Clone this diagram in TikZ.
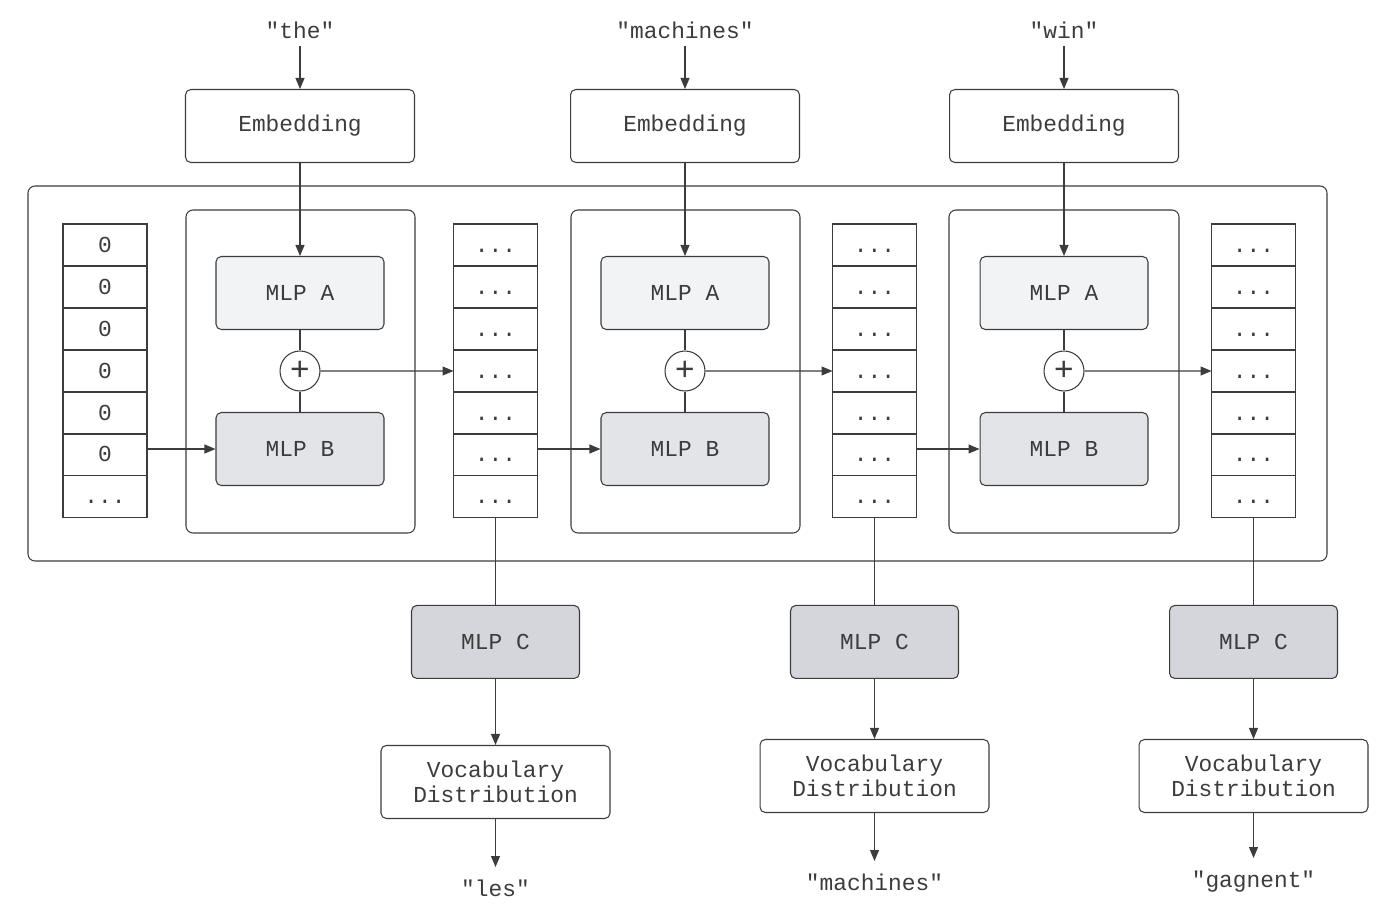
\documentclass[tikz,border=0pt]{standalone}
\usepackage{fontspec}
\setmainfont{Liberation Mono}[Ligatures=TeXOff]
\usetikzlibrary{arrows.meta}
\usetikzlibrary{positioning}

\definecolor{linegray}{HTML}{3C3C3C}
\definecolor{mlpafill}{HTML}{F2F3F5}
\definecolor{mlpbfill}{HTML}{E2E4E7}
\definecolor{mlpcfill}{HTML}{D4D6DB}

\tikzset{
	box/.style={draw=linegray, line width=0.6pt, rounded corners=3pt, minimum width=4.58cm, minimum height=1.46cm, align=center, text=linegray},
	mlp/.style={box, minimum width=3.36cm},
	cell/.style={draw=linegray, line width=0.6pt, minimum width=1.68cm, minimum height=0.84cm, outer sep=0pt, text=linegray, text height=0.8em, text depth=0pt},
	word/.style={text=linegray, inner sep=4pt},
	outword/.style={word, inner sep=7pt},
	sum/.style={draw=linegray, line width=0.6pt, circle, minimum size=0.8cm, inner sep=0pt, text=linegray, font=\fontsize{19}{19}\selectfont},
	arr/.style={draw=linegray, line width=0.6pt, -{Triangle[length=0.22cm,width=0.18cm]}},
	link/.style={draw=linegray, line width=0.6pt}
}

\begin{document}
\begin{tikzpicture}
	[x=0.02cm, y=-0.02cm, font=\fontsize{13}{14}\selectfont];

	\useasboundingbox (0,0) rectangle (1400,914);

	%Frames
	\draw[link, rounded corners=4pt] (28,186) rectangle (1327,561);
	\draw[link, rounded corners=4pt] (186,210) rectangle (415,533);
	\draw[link, rounded corners=4pt] (571,210) rectangle (800,533);
	\draw[link, rounded corners=4pt] (949,210) rectangle (1179,533);

	%Embeddings
	\node[box] (emb1) at (300,126) {Embedding};
	\node[box] (emb2) at (685,126) {Embedding};
	\node[box] (emb3) at (1064,126) {Embedding};
	\node[word, above=0.86cm of emb1] (in1) {"the"};
	\node[word, above=0.86cm of emb2] (in2) {"machines"};
	\node[word, above=0.86cm of emb3] (in3) {"win"};

	%MLP blocks
	\node[mlp, fill=mlpafill] (mlpa1) at (300,293) {MLP A};
	\node[mlp, fill=mlpafill] (mlpa2) at (685,293) {MLP A};
	\node[mlp, fill=mlpafill] (mlpa3) at (1064,293) {MLP A};
	\node[sum] (plus1) at (300,371) {+};
	\node[sum] (plus2) at (685,371) {+};
	\node[sum] (plus3) at (1064,371) {+};
	\node[mlp, fill=mlpbfill] (mlpb1) at (300,449) {MLP B};
	\node[mlp, fill=mlpbfill] (mlpb2) at (685,449) {MLP B};
	\node[mlp, fill=mlpbfill] (mlpb3) at (1064,449) {MLP B};

	%State vectors
	\node[cell] (c1r1) at (105,245) {0};
	\node[cell, below=0pt of c1r1] (c1r2) {0};
	\node[cell, below=0pt of c1r2] (c1r3) {0};
	\node[cell, below=0pt of c1r3] (c1r4) {0};
	\node[cell, below=0pt of c1r4] (c1r5) {0};
	\node[cell, below=0pt of c1r5] (c1r6) {0};
	\node[cell, below=0pt of c1r6] (c1r7) {...};

	\node[cell] (c2r1) at (495.5,245) {...};
	\node[cell, below=0pt of c2r1] (c2r2) {...};
	\node[cell, below=0pt of c2r2] (c2r3) {...};
	\node[cell, below=0pt of c2r3] (c2r4) {...};
	\node[cell, below=0pt of c2r4] (c2r5) {...};
	\node[cell, below=0pt of c2r5] (c2r6) {...};
	\node[cell, below=0pt of c2r6] (c2r7) {...};

	\node[cell] (c3r1) at (874.5,245) {...};
	\node[cell, below=0pt of c3r1] (c3r2) {...};
	\node[cell, below=0pt of c3r2] (c3r3) {...};
	\node[cell, below=0pt of c3r3] (c3r4) {...};
	\node[cell, below=0pt of c3r4] (c3r5) {...};
	\node[cell, below=0pt of c3r5] (c3r6) {...};
	\node[cell, below=0pt of c3r6] (c3r7) {...};

	\node[cell] (c4r1) at (1253.5,245) {...};
	\node[cell, below=0pt of c4r1] (c4r2) {...};
	\node[cell, below=0pt of c4r2] (c4r3) {...};
	\node[cell, below=0pt of c4r3] (c4r4) {...};
	\node[cell, below=0pt of c4r4] (c4r5) {...};
	\node[cell, below=0pt of c4r5] (c4r6) {...};
	\node[cell, below=0pt of c4r6] (c4r7) {...};

	%Decoders
	\node[mlp, fill=mlpcfill, below=1.74cm of c2r7] (mlpc1) {MLP C};
	\node[mlp, fill=mlpcfill, below=1.74cm of c3r7] (mlpc2) {MLP C};
	\node[mlp, fill=mlpcfill, below=1.74cm of c4r7] (mlpc3) {MLP C};
	\node[box, below=1.32cm of mlpc1] (voc1) {Vocabulary\\Distribution};
	\node[box, below=1.2cm of mlpc2] (voc2) {Vocabulary\\Distribution};
	\node[box, below=1.2cm of mlpc3] (voc3) {Vocabulary\\Distribution};
	\node[outword, below=0.96cm of voc1] (out1) {"les"};
	\node[outword, below=0.96cm of voc2] (out2) {"machines"};
	\node[outword, below=0.9cm of voc3] (out3) {"gagnent"};

	%Connections
	\draw[arr] (in1) -- (emb1);
	\draw[arr] (in2) -- (emb2);
	\draw[arr] (in3) -- (emb3);
	\draw[arr] (emb1) -- (mlpa1);
	\draw[arr] (emb2) -- (mlpa2);
	\draw[arr] (emb3) -- (mlpa3);

	\draw[link] (mlpa1) -- (plus1) -- (mlpb1);
	\draw[link] (mlpa2) -- (plus2) -- (mlpb2);
	\draw[link] (mlpa3) -- (plus3) -- (mlpb3);

	\draw[arr] (c1r6.east |- mlpb1) -- (mlpb1.west);
	\draw[arr] (c2r6.east |- mlpb2) -- (mlpb2.west);
	\draw[arr] (c3r6.east |- mlpb3) -- (mlpb3.west);
	\draw[arr] (plus1) -- (c2r4);
	\draw[arr] (plus2) -- (c3r4);
	\draw[arr] (plus3) -- (c4r4);

	\draw[link] (c2r7) -- (mlpc1);
	\draw[link] (c3r7) -- (mlpc2);
	\draw[link] (c4r7) -- (mlpc3);
	\draw[arr] (mlpc1) -- (voc1);
	\draw[arr] (mlpc2) -- (voc2);
	\draw[arr] (mlpc3) -- (voc3);
	\draw[arr] (voc1) -- (out1);
	\draw[arr] (voc2) -- (out2);
	\draw[arr] (voc3) -- (out3);
\end{tikzpicture}
\end{document}
